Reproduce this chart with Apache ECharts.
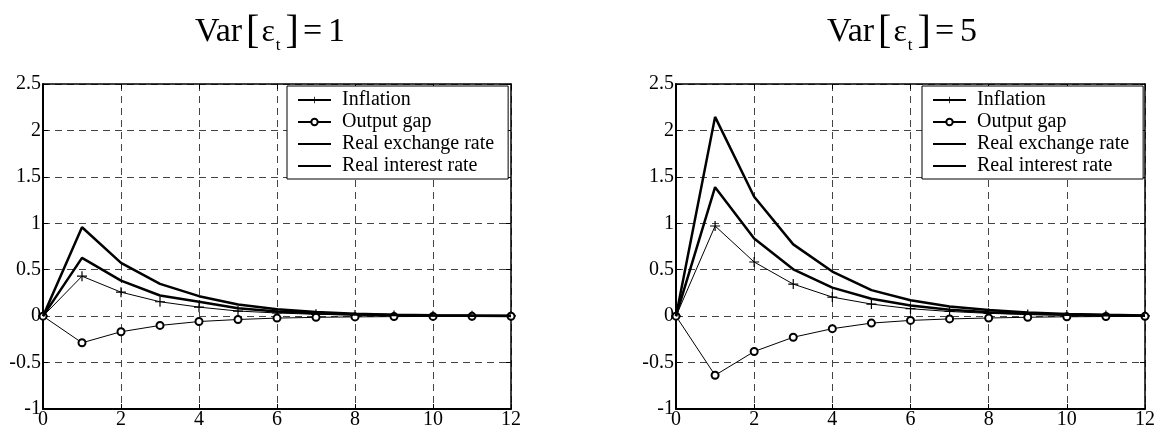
<!DOCTYPE html>
<html>
<head>
<meta charset="utf-8">
<script src="https://cdn.jsdelivr.net/npm/echarts@6/dist/echarts.min.js"></script>
<style>
html,body{margin:0;padding:0;background:#fff;}
#chart{width:1161px;height:430px;}
</style>
</head>
<body>
<div id="chart"></div>
<script>
const lags = [0,1,2,3,4,5,6,7,8,9,10,11,12];
const seriesNames = ['Inflation','Output gap','Real exchange rate','Real interest rate'];
const titles = ['1','5'];
const xTicks = [0,2,4,6,8,10,12];
const yTicks = [-1,-0.5,0,0.5,1,1.5,2,2.5];

// Var[eps_t] = 1
const infl1 = [0,0.43,0.258,0.155,0.097,0.055,0.034,0.02,0.012,0.007,0.004,0.003,0.002];
const gap1  = [0,-0.287,-0.168,-0.10,-0.058,-0.036,-0.021,-0.013,-0.008,-0.005,-0.003,-0.002,-0.001];
const rer1  = [0,0.957,0.573,0.348,0.215,0.125,0.075,0.045,0.027,0.016,0.01,0.006,0.004];
const rir1  = [0,0.627,0.383,0.222,0.155,0.086,0.05,0.03,0.018,0.011,0.006,0.004,0.002];

// Var[eps_t] = 5
const infl5 = [0,0.971,0.583,0.345,0.205,0.13,0.08,0.05,0.03,0.018,0.011,0.006,0.003];
const gap5  = [0,-0.637,-0.381,-0.227,-0.135,-0.075,-0.046,-0.03,-0.02,-0.012,-0.007,-0.004,-0.002];
const rer5  = [0,2.146,1.285,0.773,0.48,0.28,0.172,0.105,0.065,0.04,0.024,0.014,0.008];
const rir5  = [0,1.389,0.835,0.504,0.307,0.187,0.115,0.07,0.043,0.026,0.016,0.009,0.005];

const FONT = "'Liberation Serif','Times New Roman',serif";
const PLUS = 'path://M4.4,0h1.2v4.4h4.4v1.2h-4.4v4.4h-1.2v-4.4h-4.4v-1.2h4.4z';

const chart = echarts.init(document.getElementById('chart'), null, {renderer:'canvas'});

const grids = [
  {left:43, right:650, top:84, bottom:20},
  {left:676, right:16, top:84, bottom:20}
];

function mkX(gi){
  return [{
    type:'value', gridIndex:gi, min:0, max:12, interval:2,
    axisLine:{show:true, onZero:false, lineStyle:{color:'#000', width:2}},
    axisTick:{show:true, inside:true, length:5, lineStyle:{color:'#000'}},
    axisLabel:{color:'#000', fontFamily:FONT, fontSize:20, margin:1},
    splitLine:{show:true, lineStyle:{color:'#444', type:[7,5], width:1}}
  },{
    type:'value', gridIndex:gi, min:0, max:12, interval:2, position:'top',
    axisLine:{show:true, onZero:false, lineStyle:{color:'#000', width:1.5}},
    axisTick:{show:true, inside:true, length:5, lineStyle:{color:'#000'}},
    axisLabel:{show:false}, splitLine:{show:false}
  }];
}
function mkY(gi){
  return [{
    type:'value', gridIndex:gi, min:-1, max:2.5, interval:0.5,
    axisLine:{show:true, onZero:false, lineStyle:{color:'#000', width:2}},
    axisTick:{show:true, inside:true, length:5, lineStyle:{color:'#000'}},
    axisLabel:{color:'#000', fontFamily:FONT, fontSize:20, margin:2},
    splitLine:{show:true, lineStyle:{color:'#444', type:[7,5], width:1}}
  },{
    type:'value', gridIndex:gi, min:-1, max:2.5, interval:0.5, position:'right',
    axisLine:{show:true, onZero:false, lineStyle:{color:'#000', width:1.5}},
    axisTick:{show:true, inside:true, length:5, lineStyle:{color:'#000'}},
    axisLabel:{show:false}, splitLine:{show:false}
  }];
}

const toPts = arr => lags.map((x,i)=>[x, arr[i]]);

function mkSeries(gi, infl, gap, rer, rir){
  const xi = gi*2, yi = gi*2;
  return [
    {name:seriesNames[0], type:'line', xAxisIndex:xi, yAxisIndex:yi, data:toPts(infl),
     symbol:PLUS, symbolSize:10, showAllSymbol:true, color:'#000',
     itemStyle:{color:'#000'}, lineStyle:{color:'#000', width:1}, z:3},
    {name:seriesNames[1], type:'line', xAxisIndex:xi, yAxisIndex:yi, data:toPts(gap),
     symbol:'emptyCircle', symbolSize:7, showAllSymbol:true, color:'#000',
     itemStyle:{color:'#000', borderColor:'#000', borderWidth:1}, lineStyle:{color:'#000', width:1}, z:3},
    {name:seriesNames[2], type:'line', xAxisIndex:xi, yAxisIndex:yi, data:toPts(rer),
     symbol:'none', color:'#000', lineStyle:{color:'#000', width:2.5}, z:4},
    {name:seriesNames[3], type:'line', xAxisIndex:xi, yAxisIndex:yi, data:toPts(rir),
     symbol:'none', color:'#000', lineStyle:{color:'#000', width:2.5}, z:4}
  ];
}

function mkTitle(cx, val){
  const base = {fontFamily:FONT, color:'#000', fontWeight:'normal'};
  return {
    left: cx, top: 6, textAlign:'center',
    text: '{v|Var}{b|[}{e|ε}{s|t}{b|]}{q|=}{v|' + val + '}',
    textStyle:{
      fontWeight:'normal',
      rich:{
        v:{...base, fontSize:34, padding:[0,2,0,0]},
        b:{...base, fontSize:40, padding:[0,2,0,2]},
        e:{...base, fontSize:32},
        s:{...base, fontSize:17, padding:[26,3,0,1]},
        q:{...base, fontSize:34, padding:[0,6,0,2]}
      }
    }
  };
}

function mkLegend(left){
  return {
    left:left, top:86, orient:'vertical',
    data:[
      {name:seriesNames[0]},
      {name:seriesNames[1]},
      {name:seriesNames[2], itemStyle:{opacity:0}},
      {name:seriesNames[3], itemStyle:{opacity:0}}
    ],
    backgroundColor:'#fff', borderColor:'#000', borderWidth:1,
    padding:[4,14,3,10], itemGap:2, itemWidth:33, itemHeight:8,
    selectedMode:false,
    textStyle:{fontFamily:FONT, fontSize:20, color:'#000', padding:[0,0,0,6]}
  };
}

chart.setOption({
  animation:false,
  backgroundColor:'#fff',
  title:[mkTitle(266, titles[0]), mkTitle(898, titles[1])],
  legend:[mkLegend(287), mkLegend(922)],
  grid:grids,
  xAxis:[...mkX(0), ...mkX(1)],
  yAxis:[...mkY(0), ...mkY(1)],
  series:[...mkSeries(0, infl1, gap1, rer1, rir1), ...mkSeries(1, infl5, gap5, rer5, rir5)]
});
</script>
</body>
</html>
